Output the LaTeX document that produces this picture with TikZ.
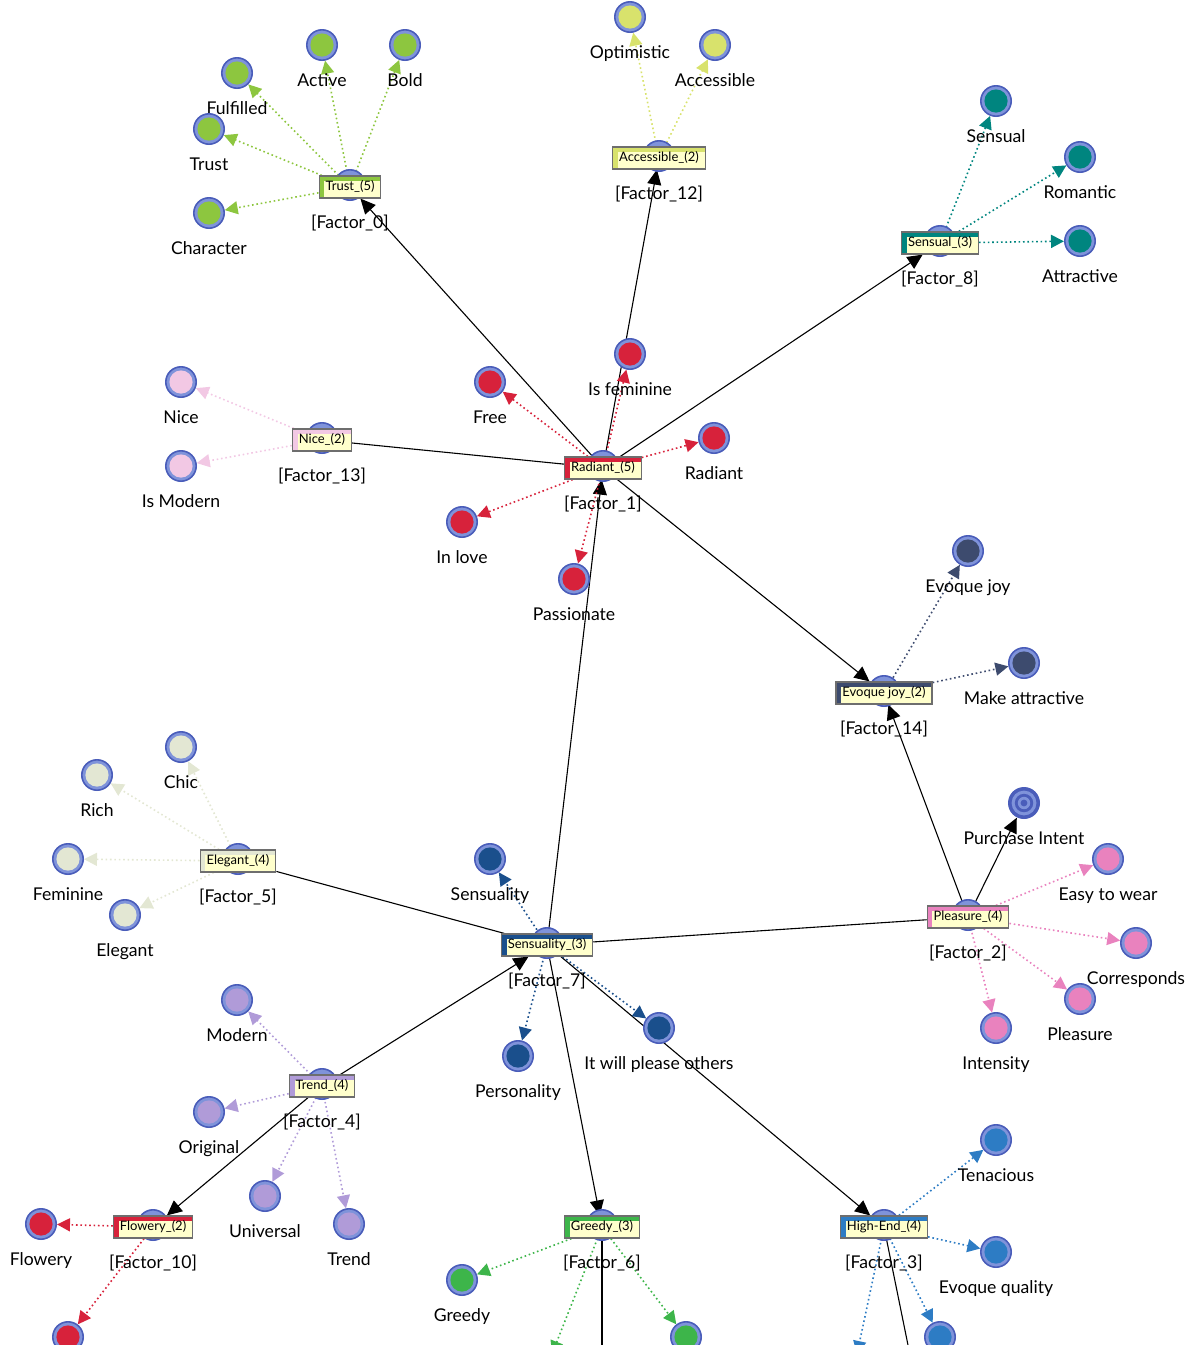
\documentclass[tikz,border=0pt]{standalone}
\usepackage{fontspec}
\setmainfont{Lato}
\usetikzlibrary{arrows.meta,backgrounds}

\definecolor{ringdark}{HTML}{4A5DBA}
\definecolor{ringlight}{HTML}{7F93DA}
\definecolor{boxfill}{HTML}{FFFFCC}
\definecolor{boxline}{HTML}{6E6E6E}
\definecolor{trustc}{HTML}{8DC63F}
\definecolor{accc}{HTML}{D8E26C}
\definecolor{sensc}{HTML}{00857F}
\definecolor{nicec}{HTML}{F2C8E4}
\definecolor{radc}{HTML}{D7223B}
\definecolor{joyc}{HTML}{3D4B6E}
\definecolor{elegc}{HTML}{E3E7D3}
\definecolor{sensuc}{HTML}{1A4F8C}
\definecolor{pleac}{HTML}{E982BE}
\definecolor{trendc}{HTML}{B09BD8}
\definecolor{greedc}{HTML}{3DB54A}
\definecolor{highc}{HTML}{2D7CC4}

\begin{document}
\begin{tikzpicture}[x=0.5pt,y=-0.5pt,
  ring/.style={circle,draw=ringdark,fill=ringlight,line width=0.8pt,minimum size=15.2pt,inner sep=0pt},
  leaf/.style={ring,path picture={\fill[#1] (path picture bounding box.center) circle (5.8pt);}},
  target/.style={circle,fill=ringdark,minimum size=16pt,inner sep=0pt,
    path picture={\fill[ringlight] (path picture bounding box.center) circle (6.2pt);
      \fill[ringdark] (path picture bounding box.center) circle (4.6pt);
      \fill[ringlight] (path picture bounding box.center) circle (3.1pt);
      \fill[ringdark] (path picture bounding box.center) circle (1.7pt);}},
  lbl/.style={font=\fontsize{8.8}{10}\selectfont,inner sep=0pt,text height=6.5pt,text depth=1.8pt,label distance=6pt},
  flbl/.style={lbl,label distance=8.3pt},
  fbox/.style={draw=boxline,fill=#1,line width=0.6pt,minimum height=11pt,inner xsep=3.2pt,inner ysep=0pt,
    text height=4.9pt,text depth=1.4pt,font=\fontsize{6.5}{7}\selectfont,
    path picture={\fill[boxfill] ([shift={(2.6pt,-2.6pt)}]path picture bounding box.north west) rectangle (path picture bounding box.south east);}},
  rel/.style={-{Triangle[length=7.5pt,width=7pt]},line width=0.55pt},
  relline/.style={line width=0.55pt},
  dotline/.style={draw=#1,dash pattern=on 0.8pt off 1.4pt,line width=0.8pt,-{Triangle[length=6.5pt,width=6.5pt]}}
]
\useasboundingbox (0,0) rectangle (1200,1345);

% factors
\node[ring] (f0r) at (350,185) {};
\node[fbox=trustc,label={[flbl]below:{[Factor\_0]}}] (f0) at (350,187) {Trust\_(5)};
\node[ring] (f12r) at (659,156) {};
\node[fbox=accc,label={[flbl]below:{[Factor\_12]}}] (f12) at (659,158) {Accessible\_(2)};
\node[ring] (f8r) at (940,241) {};
\node[fbox=sensc,label={[flbl]below:{[Factor\_8]}}] (f8) at (940,243) {Sensual\_(3)};
\node[ring] (f13r) at (322,438) {};
\node[fbox=nicec,label={[flbl]below:{[Factor\_13]}}] (f13) at (322,440) {Nice\_(2)};
\node[ring] (f1r) at (603,466) {};
\node[fbox=radc,label={[flbl]below:{[Factor\_1]}}] (f1) at (603,468) {Radiant\_(5)};
\node[ring] (f14r) at (884,691) {};
\node[fbox=joyc,label={[flbl]below:{[Factor\_14]}}] (f14) at (884,693) {Evoque joy\_(2)};
\node[ring] (f5r) at (238,859) {};
\node[fbox=elegc,label={[flbl]below:{[Factor\_5]}}] (f5) at (238,861) {Elegant\_(4)};
\node[ring] (f7r) at (547,943) {};
\node[fbox=sensuc,label={[flbl]below:{[Factor\_7]}}] (f7) at (547,945) {Sensuality\_(3)};
\node[ring] (f2r) at (968,915) {};
\node[fbox=pleac,label={[flbl]below:{[Factor\_2]}}] (f2) at (968,917) {Pleasure\_(4)};
\node[ring] (f4r) at (322,1084) {};
\node[fbox=trendc,label={[flbl]below:{[Factor\_4]}}] (f4) at (322,1086) {Trend\_(4)};
\node[ring] (f10r) at (153,1225) {};
\node[fbox=radc,label={[flbl]below:{[Factor\_10]}}] (f10) at (153,1227) {Flowery\_(2)};
\node[ring] (f6r) at (602,1225) {};
\node[fbox=greedc,label={[flbl]below:{[Factor\_6]}}] (f6) at (602,1227) {Greedy\_(3)};
\node[ring] (f3r) at (884,1225) {};
\node[fbox=highc,label={[flbl]below:{[Factor\_3]}}] (f3) at (884,1227) {High-End\_(4)};

% items
\node[leaf=trustc,label={[lbl]below:Active}] (active) at (322,45) {};
\node[leaf=trustc,label={[lbl]below:Bold}] (bold) at (405,45) {};
\node[leaf=trustc,label={[lbl]below:Fulfilled}] (fulfilled) at (237,73) {};
\node[leaf=trustc,label={[lbl]below:Trust}] (trust) at (209,129) {};
\node[leaf=trustc,label={[lbl]below:Character}] (character) at (209,213) {};

\node[leaf=accc,label={[lbl]below:Optimistic}] (optimistic) at (630,17) {};
\node[leaf=accc,label={[lbl]below:Accessible}] (accessible) at (715,45) {};

\node[leaf=sensc,label={[lbl]below:Sensual}] (sensual) at (996,101) {};
\node[leaf=sensc,label={[lbl]below:Romantic}] (romantic) at (1080,157) {};
\node[leaf=sensc,label={[lbl]below:Attractive}] (attractive) at (1080,241) {};

\node[leaf=nicec,label={[lbl]below:Nice}] (nice) at (181,382) {};
\node[leaf=nicec,label={[lbl]below:Is Modern}] (ismodern) at (181,466) {};

\node[leaf=radc,label={[lbl]below:Is feminine}] (isfem) at (630,354) {};
\node[leaf=radc,label={[lbl]below:Free}] (free) at (490,382) {};
\node[leaf=radc,label={[lbl]below:Radiant}] (radiant) at (714,438) {};
\node[leaf=radc,label={[lbl]below:In love}] (inlove) at (462,522) {};
\node[leaf=radc,label={[lbl]below:Passionate}] (passionate) at (574,579) {};

\node[leaf=joyc,label={[lbl]below:Evoque joy}] (evjoy) at (968,551) {};
\node[leaf=joyc,label={[lbl]below:Make attractive}] (makeattr) at (1024,663) {};

\node[leaf=elegc,label={[lbl]below:Chic}] (chic) at (181,747) {};
\node[leaf=elegc,label={[lbl]below:Rich}] (rich) at (97,775) {};
\node[leaf=elegc,label={[lbl]below:Feminine}] (feminine) at (68,859) {};
\node[leaf=elegc,label={[lbl]below:Elegant}] (elegant) at (125,915) {};

\node[leaf=sensuc,label={[lbl]below:Sensuality}] (sensuality) at (490,859) {};
\node[leaf=sensuc,label={[lbl]below:Personality}] (personality) at (518,1056) {};
\node[leaf=sensuc,label={[lbl]below:It will please others}] (please) at (659,1028) {};

\node[target,label={[lbl]below:Purchase Intent}] (pint) at (1024,803) {};
\node[leaf=pleac,label={[lbl]below:Easy to wear}] (easy) at (1108,859) {};
\node[leaf=pleac,label={[lbl]below:Corresponds}] (corr) at (1136,943) {};
\node[leaf=pleac,label={[lbl]below:Pleasure}] (pleasure) at (1080,999) {};
\node[leaf=pleac,label={[lbl]below:Intensity}] (intensity) at (996,1028) {};

\node[leaf=trendc,label={[lbl]below:Modern}] (modern) at (237,1000) {};
\node[leaf=trendc,label={[lbl]below:Original}] (original) at (209,1112) {};
\node[leaf=trendc,label={[lbl]below:Universal}] (universal) at (265,1196) {};
\node[leaf=trendc,label={[lbl]below:Trend}] (trend) at (349,1224) {};

\node[leaf=radc,label={[lbl]below:Flowery}] (flowery) at (41,1224) {};
\node[leaf=radc] (flow2) at (68,1337) {};

\node[leaf=greedc,label={[lbl]below:Greedy}] (greedy) at (462,1280) {};
\node[leaf=greedc] (greed3) at (686,1337) {};
\coordinate (greed2) at (552,1354);
\coordinate (greedout) at (602,1350);

\node[leaf=highc,label={[lbl]below:Tenacious}] (tenacious) at (996,1140) {};
\node[leaf=highc,label={[lbl]below:Evoque quality}] (evqual) at (996,1252) {};
\node[leaf=highc] (high3) at (940,1337) {};
\coordinate (high4) at (857,1354);
\coordinate (highout) at (909,1350);

\begin{scope}[on background layer]
% relations between factors
\draw[rel] (f1) -- (f0);
\draw[rel] (f1) -- (f12);
\draw[rel] (f1) -- (f8);
\draw[relline] (f13) -- (f1);
\draw[rel] (f1) -- (f14);
\draw[rel] (f7) -- (f1);
\draw[rel] (f2) -- (f14);
\draw[rel] (f2) -- (pint);
\draw[relline] (f5) -- (f7);
\draw[relline] (f7) -- (f2);
\draw[rel] (f4) -- (f7);
\draw[rel] (f4) -- (f10);
\draw[rel] (f7) -- (f6);
\draw[rel] (f7) -- (f3);
\draw[relline] (f6) -- (greedout);
\draw[relline] (f3) -- (highout);

% loadings
\draw[dotline=trustc] (f0) -- (active);
\draw[dotline=trustc] (f0) -- (bold);
\draw[dotline=trustc] (f0) -- (fulfilled);
\draw[dotline=trustc] (f0) -- (trust);
\draw[dotline=trustc] (f0) -- (character);
\draw[dotline=accc] (f12) -- (optimistic);
\draw[dotline=accc] (f12) -- (accessible);
\draw[dotline=sensc] (f8) -- (sensual);
\draw[dotline=sensc] (f8) -- (romantic);
\draw[dotline=sensc] (f8) -- (attractive);
\draw[dotline=nicec] (f13) -- (nice);
\draw[dotline=nicec] (f13) -- (ismodern);
\draw[dotline=radc] (f1) -- (isfem);
\draw[dotline=radc] (f1) -- (free);
\draw[dotline=radc] (f1) -- (radiant);
\draw[dotline=radc] (f1) -- (inlove);
\draw[dotline=radc] (f1) -- (passionate);
\draw[dotline=joyc] (f14) -- (evjoy);
\draw[dotline=joyc] (f14) -- (makeattr);
\draw[dotline=elegc] (f5) -- (chic);
\draw[dotline=elegc] (f5) -- (rich);
\draw[dotline=elegc] (f5) -- (feminine);
\draw[dotline=elegc] (f5) -- (elegant);
\draw[dotline=sensuc] (f7) -- (sensuality);
\draw[dotline=sensuc] (f7) -- (personality);
\draw[dotline=sensuc] (f7) -- (please);
\draw[dotline=pleac] (f2) -- (easy);
\draw[dotline=pleac] (f2) -- (corr);
\draw[dotline=pleac] (f2) -- (pleasure);
\draw[dotline=pleac] (f2) -- (intensity);
\draw[dotline=trendc] (f4) -- (modern);
\draw[dotline=trendc] (f4) -- (original);
\draw[dotline=trendc] (f4) -- (universal);
\draw[dotline=trendc] (f4) -- (trend);
\draw[dotline=radc] (f10) -- (flowery);
\draw[dotline=radc] (f10) -- (flow2);
\draw[dotline=greedc] (f6) -- (greedy);
\draw[dotline=greedc] (f6) -- (greed2);
\draw[dotline=greedc] (f6) -- (greed3);
\draw[dotline=highc] (f3) -- (tenacious);
\draw[dotline=highc] (f3) -- (evqual);
\draw[dotline=highc] (f3) -- (high3);
\draw[dotline=highc] (f3) -- (high4);
\end{scope}
\end{tikzpicture}
\end{document}
